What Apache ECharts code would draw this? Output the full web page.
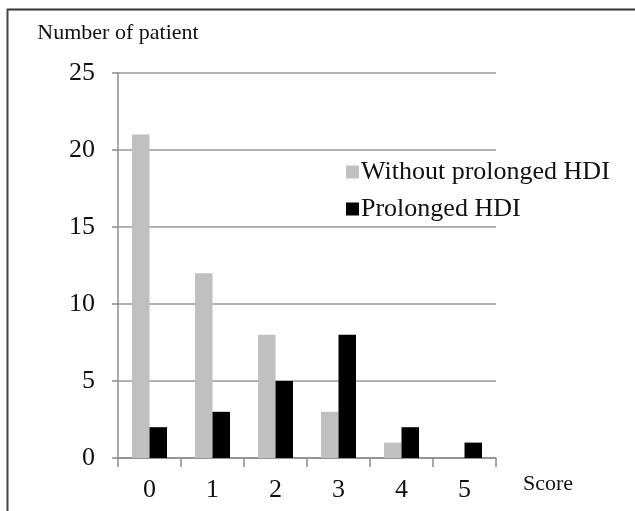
<!DOCTYPE html>
<html><head><meta charset="utf-8">
<script src="https://cdn.jsdelivr.net/npm/echarts@6/dist/echarts.min.js"></script>
<style>html,body{margin:0;padding:0;background:#fff}#c{width:635px;height:511px}</style>
</head><body><div id="c"></div>
<script>
const categories = ['0','1','2','3','4','5'];
const withoutProlonged = [21,12,8,3,1,0];
const prolonged = [2,3,5,8,2,1];
const yTicks = {min:0,max:25,interval:5};
const F = '"Liberation Serif", "Times New Roman", serif';
const chart = echarts.init(document.getElementById('c'));
chart.setOption({
  animation:false,
  backgroundColor:'#fff',
  textStyle:{fontFamily:F},
  grid:{left:118,right:139,top:73,bottom:53},
  legend:{
    orient:'vertical', left:341, top:154, itemWidth:13, itemHeight:13, itemGap:11, icon:'rect',
    textStyle:{fontFamily:F,fontSize:26,color:'#111',padding:[0,0,0,-3]},
    data:['Without prolonged HDI','Prolonged HDI']
  },
  xAxis:{
    type:'category', data:categories,
    name:'Score', nameLocation:'end', nameGap:27,
    nameTextStyle:{fontFamily:F,fontSize:22,color:'#111',verticalAlign:'top',padding:[15,0,0,0]},
    axisLine:{lineStyle:{color:'#8c8c8c',width:1.5}},
    axisTick:{show:true,length:9,alignWithLabel:false,lineStyle:{color:'#8c8c8c',width:1.5}},
    axisLabel:{fontFamily:F,fontSize:26,color:'#111',margin:19}
  },
  yAxis:{
    type:'value', min:yTicks.min, max:yTicks.max, interval:yTicks.interval,
    name:'Number of patient', nameLocation:'end', nameGap:40,
    nameTextStyle:{fontFamily:F,fontSize:22,color:'#111',align:'center',verticalAlign:'middle'},
    axisLine:{show:true,lineStyle:{color:'#8c8c8c',width:1.5}},
    axisTick:{show:true,length:6,lineStyle:{color:'#8c8c8c',width:1.5}},
    splitLine:{lineStyle:{color:'#9a9a9a',width:1.5}},
    axisLabel:{fontFamily:F,fontSize:26,color:'#111',margin:23}
  },
  series:[
    {name:'Without prolonged HDI',type:'bar',data:withoutProlonged,barWidth:17.5,barGap:'0%',itemStyle:{color:'#c0c0c0'}},
    {name:'Prolonged HDI',type:'bar',data:prolonged,barWidth:17.5,barGap:'0%',itemStyle:{color:'#000'}}
  ],
  graphic:[
    {type:'line',shape:{x1:7,y1:9.5,x2:635,y2:9.5},style:{stroke:'#333',lineWidth:2}},
    {type:'line',shape:{x1:7.5,y1:9,x2:7.5,y2:511},style:{stroke:'#444',lineWidth:2}}
  ]
});
</script></body></html>
